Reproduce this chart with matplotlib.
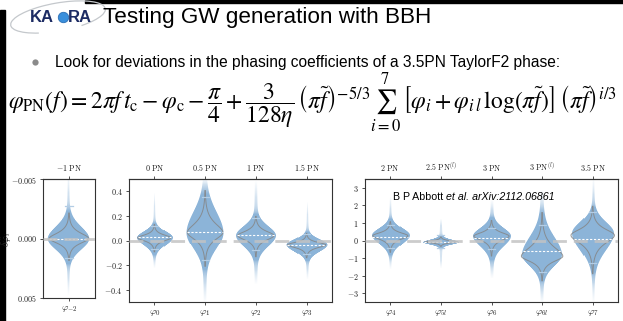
import numpy as np
import matplotlib
matplotlib.use('Agg')
import matplotlib.pyplot as plt
from matplotlib.colors import to_rgb
from matplotlib.lines import Line2D
from matplotlib.patches import Arc, Rectangle

plt.rcParams['mathtext.fontset'] = 'cm'
plt.rcParams['font.family'] = ['Liberation Sans', 'DejaVu Sans']

W_PX, H_PX = 623, 321

# phasing coefficients, one entry each
coeff_labels = [r'$\varphi_{-2}$', r'$\varphi_0$', r'$\varphi_1$', r'$\varphi_2$', r'$\varphi_3$',
                r'$\varphi_4$', r'$\varphi_{5l}$', r'$\varphi_6$', r'$\varphi_{6l}$', r'$\varphi_7$']
pn_labels = [r'$-1\ \mathrm{PN}$', r'$0\ \mathrm{PN}$', r'$0.5\ \mathrm{PN}$', r'$1\ \mathrm{PN}$',
             r'$1.5\ \mathrm{PN}$', r'$2\ \mathrm{PN}$', r'$2.5\ \mathrm{PN}^{(l)}$', r'$3\ \mathrm{PN}$',
             r'$3\ \mathrm{PN}^{(l)}$', r'$3.5\ \mathrm{PN}$']
panel_idx = [0, 1, 1, 1, 1, 2, 2, 2, 2, 2]

# posterior shape of delta phi_i (filled violins)
post_mode = [0.0, 0.022, 0.065, 0.04, -0.035, 0.27, -0.08, 0.25, -0.83, 0.42]
post_median = [0.0, 0.032, 0.073, 0.045, -0.035, 0.20, -0.07, 0.15, -0.60, 0.10]
spread_hi = [0.0009, 0.05, 0.17, 0.075, 0.045, 0.40, 0.15, 0.45, 1.00, 0.63]
spread_lo = [0.0010, 0.06, 0.13, 0.085, 0.055, 0.48, 0.13, 0.58, 0.62, 0.95]
tail_hi = [0.0048, 0.39, 0.52, 0.49, 0.32, 2.5, 1.3, 2.35, 2.9, 3.6]
tail_lo = [-0.0056, -0.23, -0.52, -0.36, -0.32, -1.7, -1.6, -2.2, -3.6, -3.6]
max_width = [0.40, 0.35, 0.36, 0.39, 0.40, 0.37, 0.35, 0.37, 0.39, 0.41]
ci_hi = [0.0016, 0.12, 0.35, 0.18, 0.05, 0.9, 0.3, 0.7, 0.9, 1.6]
ci_lo = [-0.0027, -0.07, -0.16, -0.08, -0.11, -0.4, -0.4, -0.5, -1.8, -1.3]

# second posterior, drawn as grey outline only
alt_mode = [0.0, 0.022, 0.065, 0.04, -0.035, 0.27, -0.08, 0.25, -0.90, 0.30]
alt_width = [0.38, 0.33, 0.35, 0.36, 0.38, 0.35, 0.33, 0.35, 0.41, 0.43]
alt_hi = [0.00035, 0.02, 0.063, 0.03, 0.017, 0.15, 0.055, 0.17, 0.45, 0.30]
alt_lo = [0.0004, 0.022, 0.05, 0.032, 0.02, 0.18, 0.05, 0.21, 0.25, 0.40]

# per panel axis settings
panel_ylim = [(0.005, -0.005), (-0.5, 0.5), (-3.5, 3.5)]
panel_yticks = [[-0.005, 0.0, 0.005], [-0.4, -0.2, 0.0, 0.2, 0.4], [-3, -2, -1, 0, 1, 2, 3]]
panel_yfmt = ['{:.3f}', '{:.1f}', '{:.0f}']
panel_px = [(43, 95, 179, 298), (129, 332, 179, 302), (365, 618, 179, 302)]

FILL = '#8cb4d8'
GREY = '#858585'


def fill_profile(y, k):
    s = np.where(y >= post_mode[k], spread_hi[k], spread_lo[k])
    u = (y - post_mode[k]) / s
    return max_width[k] * (0.9 * np.exp(-0.5 * u**2) + 0.1 * np.exp(-np.abs(u) / 5))


def alt_profile(y, k):
    s = np.where(y >= alt_mode[k], alt_hi[k], alt_lo[k])
    d = (y - alt_mode[k]) / s
    return alt_width[k] * np.exp(1 - np.sqrt(1 + d**2))


def draw_violin(ax, x0, k, px_x, px_y):
    # raster at roughly screen resolution so the thin tails stay sharp
    ny = int(abs(tail_hi[k] - tail_lo[k]) * px_y) + 1
    nx = int(px_x) + 1
    ys = np.linspace(tail_lo[k], tail_hi[k], ny)
    xs = np.linspace(-0.5, 0.5, nx)
    dx = 1.0 / px_x
    w = fill_profile(ys, k)
    cover = np.clip((w[:, None] - np.abs(xs[None, :])) / dx + 0.5, 0, 1)
    # thin tails fade out towards their ends
    fade = np.clip(w / max_width[k] / 0.12, 0.35, 1.0)
    up = (tail_hi[k] - ys) / (0.3 * (tail_hi[k] - post_mode[k]))
    dn = (ys - tail_lo[k]) / (0.3 * (post_mode[k] - tail_lo[k]))
    fade = fade * np.clip(np.minimum(up, dn), 0, 1)
    img = np.zeros((ny, nx, 4))
    img[..., :3] = to_rgb(FILL)
    img[..., 3] = cover * fade[:, None]
    hx = 0.5 / px_x
    ax.imshow(img, extent=(x0 - 0.5 - hx, x0 + 0.5 + hx, ys[0], ys[-1]), origin='lower',
              aspect='auto', interpolation='nearest', zorder=1)

    # grey outline of the second posterior
    g = alt_profile(ys, k)
    keep = g > 0.004 * max_width[k] / 0.4
    ax.plot(x0 + g[keep], ys[keep], color=GREY, lw=0.7, alpha=0.85, zorder=2)
    ax.plot(x0 - g[keep], ys[keep], color=GREY, lw=0.7, alpha=0.85, zorder=2)

    # median and credible bounds
    wm = fill_profile(np.array([post_median[k]]), k)[0] * 0.97
    ax.plot([x0 - wm, x0 + wm], [post_median[k]] * 2, color='white', lw=0.8,
            dashes=(2.0, 1.5), zorder=3)
    for yb in (ci_lo[k], ci_hi[k]):
        ax.plot([x0 - 0.07, x0 + 0.07], [yb, yb], color='#b3cde5', lw=0.9, zorder=3)


fig = plt.figure(figsize=(W_PX / 100, H_PX / 100), dpi=100)

# slide background drawn in pixel coordinates
bg = fig.add_axes([0, 0, 1, 1])
bg.set_xlim(0, W_PX)
bg.set_ylim(H_PX, 0)
bg.axis('off')
bg.add_patch(Rectangle((0, 10), 5, H_PX, color='black'))
bg.add_patch(Rectangle((85, 0), W_PX, 3, color='black'))

# KAGRA logo
bg.add_patch(Arc((58, 17), 96, 28, angle=-10, theta1=150, theta2=390, color='#c4c8cc', lw=0.9))
bg.text(30, 18, 'KA', fontsize=12, fontweight='bold', color='#1c2b63', va='center', ha='left')
bg.add_line(Line2D([63], [17], marker='o', ms=7.5, color='#3a8fdc', mec='#2a6fb5', mew=0.6))
bg.text(68, 18, 'RA', fontsize=12, fontweight='bold', color='#1c2b63', va='center', ha='left')

bg.text(103, 17, 'Testing GW generation with BBH', fontsize=16.2, color='black',
        va='center', ha='left')

bg.add_line(Line2D([35], [62], marker='o', ms=4.5, color='#8a8a8a', mec='none'))
bg.text(55, 62, 'Look for deviations in the phasing coefficients of a 3.5PN TaylorF2 phase:',
        fontsize=11.2, color='black', va='center', ha='left')

eq = (r'$\varphi_{\rm PN}(f) = 2\pi f\, t_{\rm c} - \varphi_{\rm c} - \dfrac{\pi}{4}'
      r' + \dfrac{3}{128\eta}\,\left(\pi\tilde{f}\right)^{-5/3} \sum_{i=0}^{7}\,'
      r'\left[\varphi_i + \varphi_{i\,l}\,\log(\pi\tilde{f})\right]\,\left(\pi\tilde{f}\right)^{i/3}$')
bg.text(8, 103, eq, fontsize=17, math_fontfamily='stix', va='center', ha='left')

axes = []
for p, (L, R, T, B) in enumerate(panel_px):
    ax = fig.add_axes([L / W_PX, 1 - B / H_PX, (R - L) / W_PX, (B - T) / H_PX])
    axes.append(ax)
    members = [k for k in range(len(panel_idx)) if panel_idx[k] == p]
    px_x = (R - L) / len(members)
    px_y = (B - T) / abs(panel_ylim[p][1] - panel_ylim[p][0])
    for slot, k in enumerate(members):
        draw_violin(ax, slot, k, px_x, px_y)
    ax.axhline(0, color='#c3c3c3', lw=2.0, dashes=(5, 2.5), alpha=0.85, zorder=5)
    ax.set_xlim(-0.5, len(members) - 0.5)
    ax.set_ylim(*panel_ylim[p])
    ax.set_xticks(range(len(members)))
    ax.set_xticklabels([coeff_labels[k] for k in members], fontsize=7)
    ax.set_yticks(panel_yticks[p])
    ax.set_yticklabels(['$' + panel_yfmt[p].format(v) + '$' for v in panel_yticks[p]],
                       fontsize=5.8)
    ax.tick_params(length=2.5, width=0.6, pad=2, colors='#333333', labelcolor='#222222')
    top = ax.secondary_xaxis('top')
    top.set_xticks(range(len(members)))
    top.set_xticklabels([pn_labels[k] for k in members], fontsize=5.8)
    top.tick_params(length=2.5, width=0.6, pad=2, colors='#333333', labelcolor='#222222')
    for sp in list(ax.spines.values()) + list(top.spines.values()):
        sp.set_color('#333333')
        sp.set_linewidth(0.8)

axes[0].set_ylabel(r'$\delta\hat{\varphi}_i$', fontsize=7.5, color='#222222')
axes[0].yaxis.set_label_coords(-0.56, 0.5)

t1 = axes[2].text(0.11, 0.85, 'B P Abbott ', transform=axes[2].transAxes,
                  fontsize=7.7, va='center', ha='left')
axes[2].annotate('et al. arXiv:2112.06861', xy=(1, 0.5), xycoords=t1,
                 fontsize=7.7, style='italic', va='center', ha='left')

fig.savefig('out.png', dpi=100)
